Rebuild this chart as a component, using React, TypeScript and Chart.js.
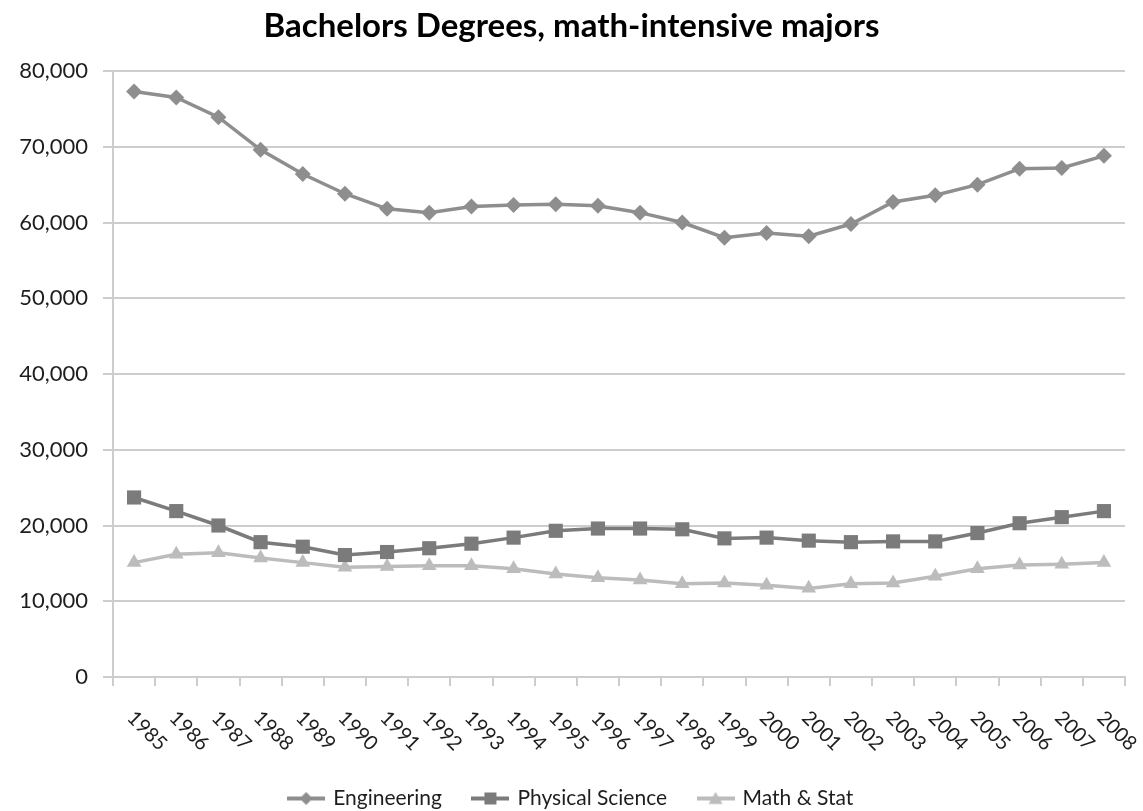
import React, { useEffect, useRef } from 'react';
import { Chart, registerables } from 'chart.js';

Chart.register(...registerables);

const years = [
  '1985', '1986', '1987', '1988', '1989', '1990', '1991', '1992', '1993', '1994', '1995', '1996',
  '1997', '1998', '1999', '2000', '2001', '2002', '2003', '2004', '2005', '2006', '2007', '2008',
];

const engineering = [
  77300, 76500, 73900, 69600, 66400, 63800, 61800, 61300, 62100, 62300, 62400, 62200,
  61300, 60000, 58000, 58600, 58200, 59800, 62700, 63600, 65000, 67100, 67200, 68800,
];

const physicalScience = [
  23700, 21900, 20000, 17800, 17200, 16100, 16500, 17000, 17600, 18400, 19300, 19600,
  19600, 19500, 18300, 18400, 18000, 17800, 17900, 17900, 19000, 20300, 21100, 21900,
];

const mathStat = [
  15100, 16200, 16400, 15700, 15100, 14500, 14600, 14700, 14700, 14300, 13600, 13100,
  12800, 12300, 12400, 12100, 11700, 12300, 12400, 13300, 14300, 14800, 14900, 15100,
];

const seriesNames = ['Engineering', 'Physical Science', 'Math & Stat'];
const titleText = 'Bachelors Degrees, math-intensive majors';

const FONT = 'Lato';
const ENG_COLOR = '#8e8e8e';
const PHYS_COLOR = '#7b7b7b';
const MATH_COLOR = '#bcbcbc';
const GRID_COLOR = '#cdcdcd';
const TEXT_COLOR = '#1e1e1e';

function makeLegendIcon(color: string, shape: 'diamond' | 'square' | 'triangle') {
  const c = document.createElement('canvas');
  c.width = 38;
  c.height = 20;
  const ctx = c.getContext('2d')!;
  ctx.strokeStyle = color;
  ctx.fillStyle = color;
  ctx.lineWidth = 4;
  ctx.beginPath();
  ctx.moveTo(0, 10);
  ctx.lineTo(38, 10);
  ctx.stroke();
  ctx.beginPath();
  const cx = 19;
  const cy = 10;
  if (shape === 'diamond') {
    ctx.moveTo(cx, cy - 6.5);
    ctx.lineTo(cx + 6.5, cy);
    ctx.lineTo(cx, cy + 6.5);
    ctx.lineTo(cx - 6.5, cy);
  } else if (shape === 'square') {
    ctx.rect(cx - 6, cy - 6, 12, 12);
  } else {
    ctx.moveTo(cx, cy - 6.5);
    ctx.lineTo(cx + 7, cy + 5.5);
    ctx.lineTo(cx - 7, cy + 5.5);
  }
  ctx.closePath();
  ctx.fill();
  return c;
}

const xLabelPlugin = {
  id: 'rotatedXLabels',
  afterDraw(chart: any) {
    const scale = chart.scales.x;
    const ctx = chart.ctx;
    const labels: string[] = chart.data.labels;
    ctx.save();
    ctx.font = `20px ${FONT}`;
    ctx.fillStyle = TEXT_COLOR;
    ctx.textAlign = 'left';
    ctx.textBaseline = 'alphabetic';
    labels.forEach((label, i) => {
      const x = scale.getPixelForTick(i);
      ctx.save();
      ctx.translate(x - 8, scale.top + 42);
      ctx.rotate(Math.PI / 4);
      ctx.fillText(label, 0, 0);
      ctx.restore();
    });
    ctx.restore();
  },
};

export default function App() {
  const canvasRef = useRef<HTMLCanvasElement | null>(null);

  useEffect(() => {
    if (!canvasRef.current) return;
    const icons = [
      makeLegendIcon(ENG_COLOR, 'diamond'),
      makeLegendIcon(PHYS_COLOR, 'square'),
      makeLegendIcon(MATH_COLOR, 'triangle'),
    ];
    const chart = new Chart(canvasRef.current, {
      type: 'line',
      data: {
        labels: years,
        datasets: [
          {
            label: seriesNames[0],
            data: engineering,
            borderColor: ENG_COLOR,
            backgroundColor: ENG_COLOR,
            borderWidth: 3.5,
            pointStyle: 'rectRot',
            pointRadius: 8,
            pointBorderWidth: 0,
            tension: 0,
          },
          {
            label: seriesNames[1],
            data: physicalScience,
            borderColor: PHYS_COLOR,
            backgroundColor: PHYS_COLOR,
            borderWidth: 3.5,
            pointStyle: 'rect',
            pointRadius: 10,
            pointBorderWidth: 0,
            tension: 0,
          },
          {
            label: seriesNames[2],
            data: mathStat,
            borderColor: MATH_COLOR,
            backgroundColor: MATH_COLOR,
            borderWidth: 3.5,
            pointStyle: 'triangle',
            pointRadius: 8.5,
            pointBorderWidth: 0,
            tension: 0,
          },
        ],
      },
      options: {
        responsive: false,
        animation: false,
        layout: { padding: { left: 0, right: 0, top: 0, bottom: -8 } },
        plugins: {
          title: {
            display: true,
            text: titleText,
            color: '#000',
            font: { family: FONT, size: 33, weight: 'bold' },
            padding: { top: 7, bottom: 24.4 },
          },
          legend: {
            position: 'bottom',
            labels: {
              usePointStyle: true,
              pointStyleWidth: 33,
              padding: 32,
              color: TEXT_COLOR,
              font: { family: FONT, size: 21 },
              generateLabels: (ch: any) => {
                const items = (Chart.defaults.plugins.legend.labels as any).generateLabels(ch);
                return items.map((it: any, i: number) => ({ ...it, pointStyle: icons[i] }));
              },
            },
          },
          tooltip: { enabled: false },
        },
        scales: {
          x: {
            type: 'category',
            offset: true,
            grid: {
              offset: true,
              drawOnChartArea: false,
              drawTicks: true,
              tickLength: 9,
              color: GRID_COLOR,
              lineWidth: 2,
            },
            border: { color: GRID_COLOR, width: 2 },
            ticks: { display: false },
            afterFit: (scale: any) => {
              scale.height = 79;
            },
          },
          y: {
            min: 0,
            max: 80000,
            ticks: {
              stepSize: 10000,
              padding: 15,
              color: TEXT_COLOR,
              font: { family: FONT, size: 22 },
              callback: (v: any) => Number(v).toLocaleString('en-US'),
            },
            grid: {
              color: GRID_COLOR,
              lineWidth: 2,
              tickLength: 10,
            },
            border: { color: GRID_COLOR, width: 2 },
            afterFit: (scale: any) => {
              scale.width = 113;
            },
          },
          spacer: {
            type: 'linear',
            position: 'right',
            display: true,
            grid: { drawOnChartArea: false, drawTicks: false, display: false },
            border: { display: false },
            ticks: { display: false },
            afterFit: (scale: any) => {
              scale.width = 18;
            },
          },
        },
      },
      plugins: [xLabelPlugin],
    });
    return () => chart.destroy();
  }, []);

  return (
    <div style={{ position: 'absolute', left: 0, top: 0, width: 1143, height: 811, background: '#fff' }}>
      <canvas ref={canvasRef} width={1143} height={811} style={{ display: 'block' }} />
    </div>
  );
}
